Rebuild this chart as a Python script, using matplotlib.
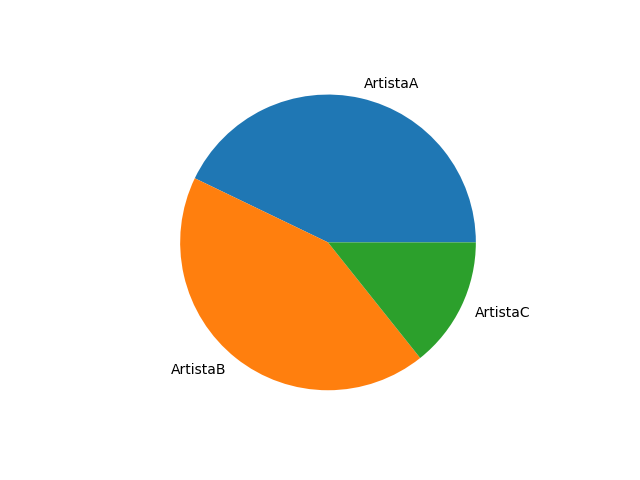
import matplotlib
matplotlib.use("Agg")
import matplotlib.pyplot as plt

labels = ["ArtistaA", "ArtistaB", "ArtistaC"]
values = [3, 3, 1]

fig, ax = plt.subplots(figsize=(6.4, 4.8), dpi=100)
ax.pie(values, labels=labels)
fig.savefig("out.png")
